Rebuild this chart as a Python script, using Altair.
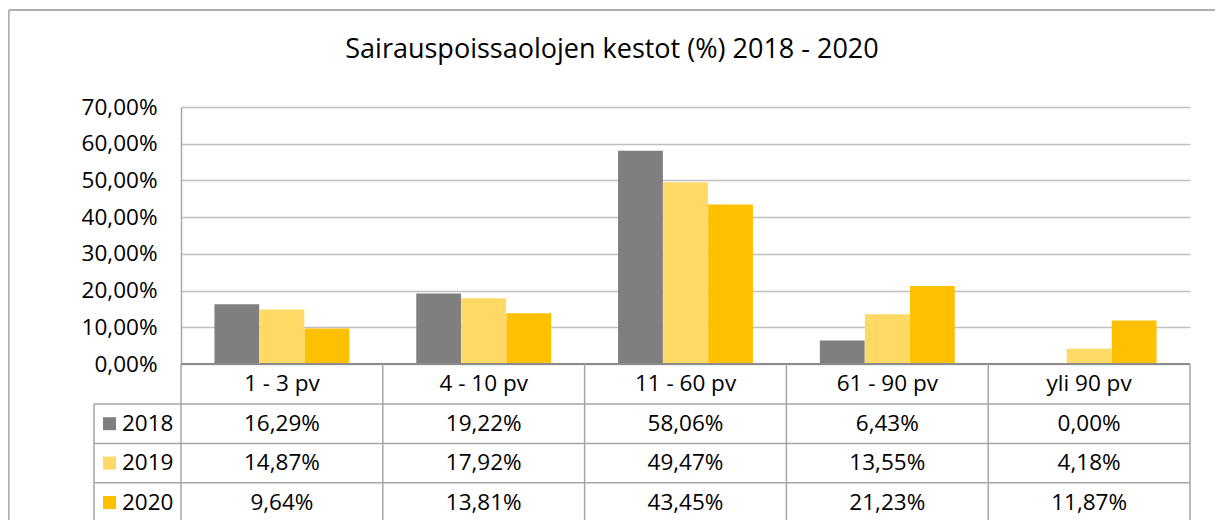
import altair as alt
import pandas as pd

categories = ["1 - 3 pv", "4 - 10 pv", "11 - 60 pv", "61 - 90 pv", "yli 90 pv"]
years = ["2018", "2019", "2020"]
values_2018 = [16.29, 19.22, 58.06, 6.43, 0.00]
values_2019 = [14.87, 17.92, 49.47, 13.55, 4.18]
values_2020 = [9.64, 13.81, 43.45, 21.23, 11.87]
colors = ["#7F7F7F", "#FFD966", "#FFC000"]
y_ticks = [0, 10, 20, 30, 40, 50, 60, 70]
title_text = "Sairauspoissaolojen kestot (%) 2018 - 2020"

rows = []
for year, vals in zip(years, [values_2018, values_2019, values_2020]):
    for c, v in zip(categories, vals):
        rows.append({"category": c, "year": year, "value": v})
df = pd.DataFrame(rows)
cat_df = pd.DataFrame({"category": categories})
year_df = pd.DataFrame({"year": years})
title_df = pd.DataFrame({"t": [title_text]})

W, H = 1009, 257
FONT = "Open Sans"
FS = 22.5
ROW_H = 39.4
LINE = "#A6A6A6"

x_scale = alt.Scale(domain=categories, paddingInner=0, paddingOuter=0)
color_scale = alt.Scale(domain=years, range=colors)
fmt = "replace(format(datum.value, '.2f'), '.', ',') + '%'"


def xcat(**kw):
    return alt.X("category:N", scale=x_scale, axis=None, **kw)


bars = alt.Chart(df).mark_bar(size=44.8).encode(
    x=xcat(),
    xOffset=alt.XOffset("year:N", scale=alt.Scale(domain=years, paddingInner=0, paddingOuter=0.74)),
    y=alt.Y(
        "value:Q",
        scale=alt.Scale(domain=[0, 70], nice=False),
        axis=alt.Axis(
            values=y_ticks, labelExpr=fmt, title=None, ticks=False, tickSize=0,
            labelPadding=24, labelFont=FONT, labelFontSize=FS, labelColor="#000000",
            domain=True, domainColor=LINE, domainWidth=1.5,
            grid=True, gridColor="#C0C0C0", gridWidth=1.3,
        ),
    ),
    color=alt.Color("year:N", scale=color_scale, legend=None),
)

layers = [bars]

# x axis / table top line
layers.append(alt.Chart(title_df).mark_rule(color="#8C8C8C", strokeWidth=1.8).encode(
    x=alt.value(0), x2=alt.value(W), y=alt.value(H)))

# vertical table lines at category boundaries
layers.append(alt.Chart(cat_df).mark_rule(color=LINE, strokeWidth=1.5).encode(
    x=xcat(bandPosition=0), y=alt.value(H), y2=alt.value(H + 200)))
layers.append(alt.Chart(title_df).mark_rule(color=LINE, strokeWidth=1.5).encode(
    x=alt.value(W), y=alt.value(H), y2=alt.value(H + 200)))
layers.append(alt.Chart(title_df).mark_rule(color=LINE, strokeWidth=1.5).encode(
    x=alt.value(-87), y=alt.value(H + 40), y2=alt.value(H + 200)))

# header labels
layers.append(alt.Chart(cat_df).mark_text(font=FONT, fontSize=FS, color="#000000", baseline="middle").encode(
    x=xcat(), y=alt.value(H + 20), text="category:N"))

for i, yr in enumerate(years):
    top = H + 40 + i * ROW_H
    mid = top + ROW_H / 2
    layers.append(alt.Chart(title_df).mark_rule(color=LINE, strokeWidth=1.5).encode(
        x=alt.value(-87), x2=alt.value(W), y=alt.value(top)))
    layers.append(
        alt.Chart(df).transform_filter(alt.datum.year == yr).transform_calculate(
            label="replace(format(datum.value, '.2f'), '.', ',') + '%'"
        ).mark_text(font=FONT, fontSize=FS, color="#000000", baseline="middle").encode(
            x=xcat(), y=alt.value(mid), text="label:N"))
    layers.append(
        alt.Chart(year_df).transform_filter(alt.datum.year == yr).mark_square(size=169, opacity=1).encode(
            x=alt.value(-71.5), y=alt.value(mid),
            color=alt.Color("year:N", scale=color_scale, legend=None)))
    layers.append(
        alt.Chart(year_df).transform_filter(alt.datum.year == yr).mark_text(
            font=FONT, fontSize=FS, color="#000000", baseline="middle", align="left").encode(
            x=alt.value(-59), y=alt.value(mid), text="year:N"))

# outer chart border (top and left edges; the right edge lies outside the picture)
layers.append(alt.Chart(title_df).mark_rule(color="#B0B0B0", strokeWidth=1.8).encode(
    x=alt.value(-172.2), x2=alt.value(W + 60), y=alt.value(-97)))
layers.append(alt.Chart(title_df).mark_rule(color="#B0B0B0", strokeWidth=1.8).encode(
    x=alt.value(-172.2), y=alt.value(-97), y2=alt.value(H + 300)))

# title
layers.append(alt.Chart(title_df).mark_text(font=FONT, fontSize=27, color="#000000", baseline="middle").encode(
    x=alt.value(431), y=alt.value(-57), text="t:N"))

chart = alt.layer(*layers).properties(
    width=W, height=H,
    autosize=alt.AutoSizeParams(type="none"),
    padding={"left": 173, "top": 99, "right": 25, "bottom": 156},
).configure_view(strokeWidth=0)

chart.save("out.html", embed_options={"renderer": "svg", "actions": False})
